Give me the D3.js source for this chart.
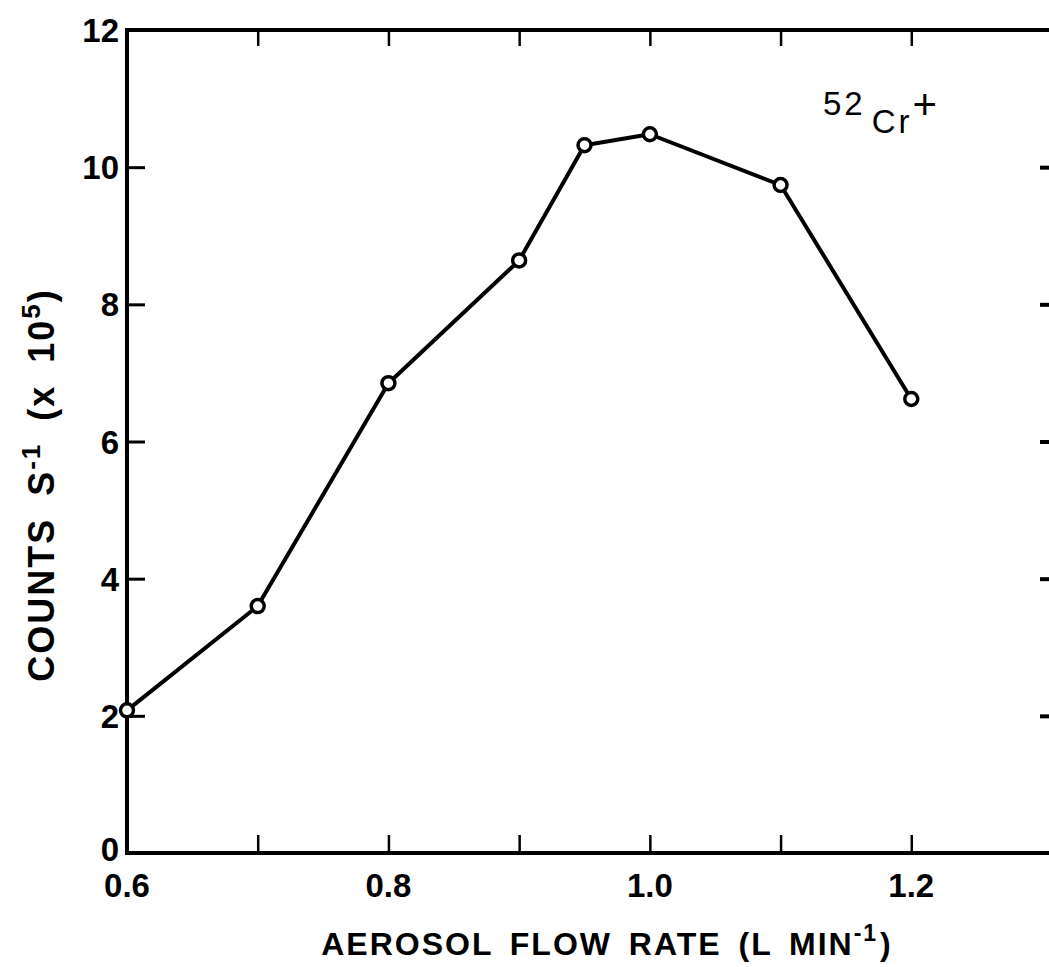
<!DOCTYPE html>
<html>
<head>
<meta charset="utf-8">
<script src="https://cdn.jsdelivr.net/npm/d3@7"></script>
<style>
  html, body { margin: 0; padding: 0; background: #fff; }
  svg { display: block; }
  text { font-family: "Liberation Sans", Arial, sans-serif; fill: #000; }
</style>
</head>
<body>
<svg id="chart" width="1049" height="967"></svg>
<script>
// Aerosol flow rate (L/min) and 52Cr+ count rate (counts/s, x 1e5)
const flowRates = [0.6, 0.7, 0.8, 0.9, 0.95, 1.0, 1.1, 1.2];
const countRates = [2.08, 3.6, 6.85, 8.64, 10.32, 10.48, 9.74, 6.62];

const xTickLabels = [0.6, 0.8, 1.0, 1.2];
const xMinorTicks = [0.7, 0.8, 0.9, 1.0, 1.1, 1.2];
const yTickLabels = [0, 2, 4, 6, 8, 10, 12];
const yInnerTicks = [2, 4, 6, 8, 10];

const svg = d3.select("#chart");
const margin = { left: 127, top: 30 };
const plotW = 931, plotH = 823;

const x = d3.scaleLinear().domain([0.6, 1.3]).range([0, 915]);
const y = d3.scaleLinear().domain([0, 12]).range([plotH, 0]);

const g = svg.append("g").attr("transform", `translate(${margin.left},${margin.top})`);

// frame
g.append("path")
  .attr("d", `M${plotW},0 H0 V${plotH} H${plotW}`)
  .attr("fill", "none").attr("stroke", "#000").attr("stroke-width", 4)
  .attr("stroke-linejoin", "miter");

// bottom ticks (inward)
g.append("g").attr("transform", `translate(0,${plotH})`)
  .call(d3.axisTop(x).tickValues(xMinorTicks).tickSize(18).tickFormat(""))
  .call(a => a.select(".domain").remove())
  .call(a => a.selectAll("line").attr("stroke-width", 2.5));

// top ticks (inward)
g.append("g")
  .call(d3.axisBottom(x).tickValues(xMinorTicks).tickSize(16).tickFormat(""))
  .call(a => a.select(".domain").remove())
  .call(a => a.selectAll("line").attr("stroke-width", 2.5));

// left ticks (inward)
g.append("g")
  .call(d3.axisRight(y).tickValues(yInnerTicks).tickSize(18).tickFormat(""))
  .call(a => a.select(".domain").remove())
  .call(a => a.selectAll("line").attr("stroke-width", 3));

// right ticks (inward)
g.append("g").attr("transform", `translate(${plotW},0)`)
  .call(d3.axisLeft(y).tickValues(yInnerTicks).tickSize(18).tickFormat(""))
  .call(a => a.select(".domain").remove())
  .call(a => a.selectAll("line").attr("stroke-width", 4));

// x tick labels
g.append("g").selectAll("text").data(xTickLabels).join("text")
  .attr("x", d => x(d)).attr("y", plotH + 44)
  .attr("text-anchor", "middle")
  .attr("font-size", 33).attr("font-weight", "bold")
  .text(d => d.toFixed(1));

// y tick labels
g.append("g").selectAll("text").data(yTickLabels).join("text")
  .attr("x", -8).attr("y", d => y(d) + (d === 0 ? 8 : 12))
  .attr("text-anchor", "end")
  .attr("font-size", 33).attr("font-weight", "bold")
  .text(d => d);

// x axis title
const xt = svg.append("text")
  .attr("x", 607).attr("y", 955)
  .attr("text-anchor", "middle")
  .attr("font-size", 32).attr("font-weight", "bold")
  .attr("letter-spacing", 2).attr("word-spacing", 6);
xt.append("tspan").text("AEROSOL FLOW RATE (L MIN");
xt.append("tspan").attr("dy", -14).attr("font-size", 23).text("-1");
xt.append("tspan").attr("dy", 14).attr("dx", 2).text(")");

// y axis title
const yt = svg.append("text")
  .attr("transform", "translate(54,485) rotate(-90)")
  .attr("text-anchor", "middle")
  .attr("font-size", 36).attr("font-weight", "bold")
  .attr("letter-spacing", 2).attr("word-spacing", 10);
yt.append("tspan").text("COUNTS S");
yt.append("tspan").attr("dy", -14).attr("font-size", 26).text("-1");
yt.append("tspan").attr("dy", 14).text(" (x 10");
yt.append("tspan").attr("dy", -14).attr("font-size", 26).text("5");
yt.append("tspan").attr("dy", 14).text(")");

// data line
const line = d3.line().x((d, i) => x(flowRates[i])).y(d => y(d));
g.append("path").datum(countRates)
  .attr("d", line)
  .attr("fill", "none").attr("stroke", "#000").attr("stroke-width", 4)
  .attr("stroke-linejoin", "round");

// markers
g.append("g").selectAll("circle").data(countRates).join("circle")
  .attr("cx", (d, i) => x(flowRates[i])).attr("cy", d => y(d))
  .attr("r", 6.5)
  .attr("fill", "#fff").attr("stroke", "#000").attr("stroke-width", 3.5);

// species label
const lab = svg.append("text").attr("x", 823).attr("y", 115)
  .attr("font-size", 33).attr("letter-spacing", 3);
lab.append("tspan").text("52");
lab.append("tspan").attr("dx", 6).attr("dy", 18).text("Cr");
lab.append("tspan").attr("dy", -14).attr("font-size", 42).text("+");
</script>
</body>
</html>
